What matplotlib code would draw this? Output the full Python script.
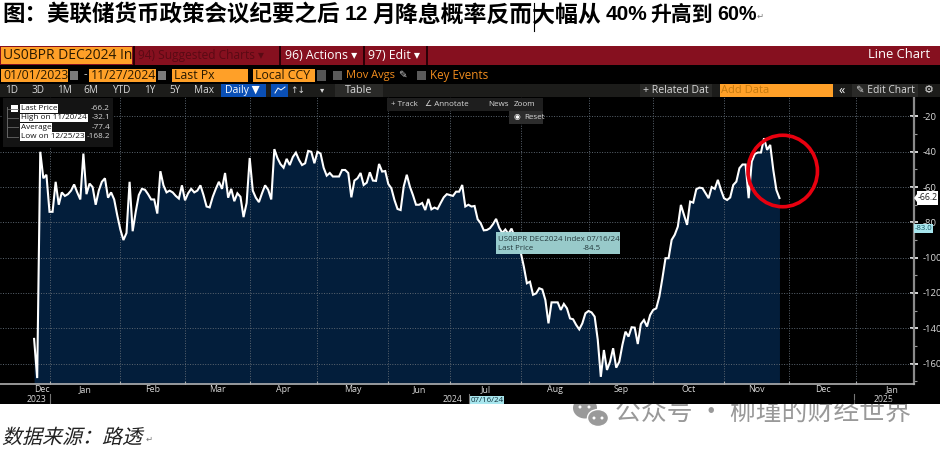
import numpy as np
import pandas as pd
import matplotlib
matplotlib.use("Agg")
import matplotlib.pyplot as plt
from matplotlib.patches import Rectangle, Ellipse
from matplotlib.patheffects import AbstractPathEffect
from matplotlib.transforms import Affine2D

# one value per business day, from 12/25/23 to 11/27/24
dec_2023 = [-146, -168.2, -40, -55, -53]
jan = [-74, -74, -57, -70, -63, -65, -64, -62, -58.5, -63, -67, -41, -64, -58, -60, -70, -62, -57, -55, -66, -63, -67, -76]
feb = [-84, -90, -86, -57, -85, -74, -64.5, -61, -61.5, -64, -67, -67, -75, -51, -59, -63, -62, -63, -65, -66.5, -59]
mar = [-67.5, -63.5, -61, -63, -62, -59, -64.5, -71, -71.5, -65.5, -61, -57, -61, -52, -66, -61, -68, -63.5, -65.5, -77, -69]
apr = [-43.5, -62, -66, -68.5, -63.5, -59, -61.5, -67, -38.5, -43.5, -47, -49, -44, -47.5, -43, -40.5, -44.5, -47.5, -46.5, -39.5, -40, -46.5]
may = [-40, -41, -49, -53.5, -52, -54, -54, -54, -50.3, -50.3, -52, -65.8, -56.3, -55, -52, -58.8, -57.5, -51.6, -56.3, -56.5, -46.9, -51.2, -50.9]
jun = [-58.2, -60.7, -67.3, -72.4, -73, -59.7, -53, -59.7, -64.5, -70, -70, -69, -73, -66.7, -72.6, -71.6, -72.4, -69, -65.8, -64]
jul = [-64.5, -65, -62.6, -62.6, -58.8, -71, -70, -71, -70.7, -78.2, -80.5, -84.5, -84.3, -83.3, -81, -78, -83, -86, -84, -86.5, -83.5, -88, -91]
aug = [-97, -105, -114.5, -113.6, -121, -120.2, -117.3, -118, -124, -137.2, -125.3, -125.3, -125.3, -129.6, -126.2, -128.7, -134.4, -134.9, -138.1, -140.6, -137.2, -131.5]
sep = [-130.2, -131, -133.4, -146.4, -167.5, -152.3, -163.6, -158.9, -151.3, -162.3, -158.9, -149.5, -141.9, -144.7, -139.4, -139.6, -148.9, -137.6, -135.3, -139, -132.5]
oct_ = [-129.6, -128.7, -122, -111.6, -100.3, -100.3, -89.9, -87, -82.4, -70.1, -75.8, -81.4, -68.2, -68.8, -61.2, -60.3, -60.6, -63.5, -66.3, -60, -61, -55.9, -61.6]
nov = [-66.3, -67.3, -65.9, -58.8, -56.9, -49.3, -47.2, -47.2, -66.3, -45.5, -41.2, -40.4, -40.4, -32.3, -38.9, -36.1, -50.3, -61.6, -66.2]

prices = dec_2023 + jan + feb + mar + apr + may + jun + jul + aug + sep + oct_ + nov

month_labels = ["Jan", "Feb", "Mar", "Apr", "May", "Jun", "Jul", "Aug", "Sep", "Oct", "Nov", "Dec", "Jan"]
month_starts = ["2024-01-01", "2024-02-01", "2024-03-01", "2024-04-01", "2024-05-01", "2024-06-03",
                "2024-07-01", "2024-08-01", "2024-09-02", "2024-10-01", "2024-11-01", "2024-12-02", "2025-01-01"]
y_ticks = [-20, -40, -60, -80, -100, -120, -140, -160]
y_minor = [-30, -50, -70, -90, -110, -130, -150, -170]
legend_rows = [("Last Price", "-66.2"), ("High on 11/20/24", "-32.1"), ("Average", "-77.4"), ("Low on 12/25/23", "-168.2")]

ORANGE = "#ffa028"
RED = "#86101f"
UI_FONT = ["Open Sans", "DejaVu Sans"]
TITLE_FONT = ["Liberation Sans", "Noto Sans CJK SC", "DejaVu Sans"]
CJK_FONT = ["Noto Sans CJK SC", "DejaVu Sans"]


class Slant(AbstractPathEffect):
    # CJK fonts have no italic, so shear the glyph outlines
    def draw_path(self, renderer, gc, tpath, affine, rgbFace=None):
        renderer.draw_path(gc, tpath, Affine2D().skew_deg(14, 0) + affine, rgbFace)


# the terminal's x axis has one equal step per business day
days = pd.bdate_range("2023-12-25", "2025-03-31")
tick_pos = days.searchsorted(pd.to_datetime(month_starts))
positions = np.arange(len(prices))

fig = plt.figure(figsize=(9.4, 4.51), dpi=100, facecolor="white")


def px_axes(zorder):
    a = fig.add_axes([0, 0, 1, 1], zorder=zorder)
    a.set_xlim(0, 940)
    a.set_ylim(451, 0)
    a.axis("off")
    a.patch.set_alpha(0)
    return a


back = px_axes(0)
front = px_axes(2)
back.add_patch(Rectangle((0, 46), 940, 358, color="black", lw=0))


def box(x0, y0, x1, y1, color, target=front, **kw):
    target.add_patch(Rectangle((x0, y0), x1 - x0, y1 - y0, facecolor=color, lw=0, **kw))


def label(x, y, s, color="#d8d8d8", size=6.6, ha="left", family=UI_FONT, **kw):
    return front.text(x, y, s, color=color, fontsize=size, ha=ha, va="center", family=family, **kw)


# main chart
ax = fig.add_axes([0, (451 - 384) / 451, 914 / 940, (384 - 97) / 451], zorder=1)
ax.set_facecolor("black")
x_left = 5 - 49.5 / 3.08
x_right = x_left + 914 / 3.08
y_bottom = -20 - (384 - 116.5) / 1.765
y_top = -20 + (116.5 - 97) / 1.765
ax.set_xlim(x_left, x_right)
ax.set_ylim(y_bottom, y_top)
ax.fill_between(positions, prices, y_bottom, color="#031e3b", lw=0, zorder=1)
ax.vlines(tick_pos, y_bottom, y_top, color="#5c6670", lw=0.7, linestyles=(0, (1, 1.6)), zorder=2)
ax.hlines(y_ticks, x_left, x_right, color="#5c6670", lw=0.7, linestyles=(0, (1, 1.6)), zorder=2)
ax.plot(positions, prices, color="white", lw=1.5, zorder=3, solid_joinstyle="miter")

for side in ["top", "left"]:
    ax.spines[side].set_visible(False)
ax.spines["right"].set_color("#8a8a8a")
ax.spines["right"].set_linewidth(1.6)
ax.spines["bottom"].set_color("#b0b0b0")
ax.spines["bottom"].set_linewidth(1.2)
ax.yaxis.tick_right()
ax.set_yticks(y_ticks)
ax.set_yticks(y_minor, minor=True)
ax.set_yticklabels([str(t) for t in y_ticks], fontsize=6.8, color="#d8d8d8", family=UI_FONT)
ax.tick_params(axis="y", which="major", direction="inout", length=6, width=1.2, color="white", pad=3)
ax.tick_params(axis="y", which="minor", direction="out", length=2, width=0.8, color="#999999")
ax.set_xticks(tick_pos)
ax.set_xticklabels([])
ax.tick_params(axis="x", direction="in", length=2, width=0.8, color="#b0b0b0")

# month names sit in the middle of each month
edges = np.r_[0, tick_pos, days.searchsorted(pd.Timestamp("2025-02-03"))]
to_px = lambda p: (p - x_left) * 914 / (x_right - x_left)
for name, a, b in zip(["Dec"] + month_labels, edges[:-1], edges[1:]):
    label(to_px((a + b) / 2), 390, name, ha="center", size=6.4)
label(36, 399, "2023", ha="center", size=6.2)
label(452, 399, "2024", ha="center", size=6.2)
label(883, 399, "2025", ha="center", size=6.2)
for xp in [49.5, 469, 854]:
    front.plot([xp, xp], [394, 403], color="#777777", lw=0.8)
box(470, 396, 504, 404, "#a8e6ee")
label(487, 400, "07/16/24", color="#10303a", ha="center", size=5.8)

# toolbar rows
box(0, 46, 940, 65, RED)
box(1, 47, 132, 64, ORANGE)
label(3, 55.5, "US0BPR DEC2024 In", color="#2a1a00", size=10)
box(133, 46, 134.5, 65, "#2a0006")
label(138, 55.5, "94) Suggested Charts ▾", color="#5a0a14", size=8.6)
label(285, 55.5, "96) Actions ▾", color="white", size=8.8)
label(368, 55.5, "97) Edit ▾", color="white", size=8.8)
for xp in [279, 363, 426]:
    box(xp, 46, xp + 1.5, 65, "#2a0006")
label(930, 55, "Line Chart", color="white", size=9.4, ha="right")

for x0, x1, s in [(1, 68, "01/01/2023"), (89, 156, "11/27/2024"), (172, 248, "Last Px"), (253, 315, "Local CCY")]:
    box(x0, 69, x1, 82, ORANGE)
    label(x0 + 2, 75.5, s, color="#2a1a00", size=8.8)
for xp in [70, 158]:
    box(xp, 71, xp + 8, 80, "#7a7a7a")
label(84, 75, "-", color="#d8d8d8", size=8)
box(317, 70, 326, 81, "#555555")
box(333, 71, 342, 80, "#5a5a5a")
label(346, 75.5, "Mov Avgs", color="#f08c1e", size=8)
label(398, 75.5, "✎", color="#cccccc", size=7.5)
box(417, 71, 426, 80, "#5a5a5a")
label(430, 75.5, "Key Events", color="#f08c1e", size=8.4)

box(0, 84, 940, 97, "#1c1c1a")
for xp, s in [(12, "1D"), (38, "3D"), (65, "1M"), (91, "6M"), (121, "YTD"), (150, "1Y"), (175, "5Y"), (204, "Max")]:
    label(xp, 90.5, s, ha="center", size=7.2)
box(221, 84, 266, 97, "#0a4fb5")
label(225, 90.5, "Daily ▼", color="white", size=7.6)
box(271, 84, 288, 97, "#0a4fb5")
front.plot([275, 278, 281, 285], [93, 88, 90, 87], color="white", lw=0.7)
label(298, 90.5, "↑↓", ha="center", size=6.5)
label(322, 90.5, "▾", ha="center", size=6)
box(335, 84, 383, 97, "#2a2a28")
label(359, 90.5, "Table", ha="center", size=7.8)
box(640, 84, 712, 97, "#2a2a28")
label(643, 90.5, "+ Related Dat", size=7.6)
box(720, 84, 833, 97, ORANGE)
label(721, 90.5, "Add Data", color="#c47a10", size=8)
label(842, 90, "«", ha="center", size=9, color="white")
box(852, 84, 918, 97, "#2a2a28")
label(856, 90.5, "✎ Edit Chart", size=7.4)
label(929, 90.5, "⚙", ha="center", size=8, color="#dddddd")

# price legend
box(3, 98, 113, 147, "#141414")
box(11, 105, 18, 112, "white")
front.plot([7, 7], [107, 137], color="#666666", lw=0.7)
for row, (name, val) in enumerate(legend_rows):
    yp = 108.5 + row * 9.4
    front.plot([7, 18], [yp, yp], color="#666666", lw=0.6, zorder=1)
    label(21, yp, name, color="#111111", size=5.9, bbox=dict(facecolor="white", edgecolor="none", pad=0.6))
    label(110, yp, val, size=5.9, ha="right")

# chart tools
box(387, 98, 543, 111, "#1e1e1e")
label(391, 104.5, "+ Track", size=5.8)
label(425, 104.5, "∠ Annotate", size=5.8)
label(488, 104.5, "News", size=5.8)
label(514, 104.5, "Zoom", size=5.8, ha="left")
box(509, 111, 543, 124, "#2c2c2c")
label(514, 117.5, "◉", color="white", size=5.6)
label(524, 117.5, "Reset", size=5.8)

# crosshair tooltip and last value flags
box(495.5, 232, 620, 254, "#9fd4d4", alpha=0.96)
label(498, 239.5, "US0BPR DEC2024 Index 07/16/24", color="#23393c", size=5.7)
label(498, 248, "Last Price", color="#23393c", size=5.7)
label(583, 248, "-84.5", color="#23393c", size=5.7)
box(917, 191, 938, 205, "white")
front.fill([914, 917, 917], [198, 194, 202], color="white", lw=0)
label(927.5, 198, "-66.2", color="#222222", size=6.3, ha="center")
box(914, 224, 933, 233, "#a8e6ee")
label(923.5, 228.5, "-83.0", color="#1a5560", size=5.6, ha="center")

front.add_patch(Ellipse((782.7, 171), 69.5, 71.5, fill=False, edgecolor="#e8000f", lw=2.6))

# page text around the screenshot, the title is set in runs because its digits are narrower
for xp, s, sz in [(2, "图：美联储货币政策会议纪要之后", 16.2), (345, "12", 15), (373, "月降息概率反而大幅从", 16.5),
                  (606, "40%", 15), (650, "升高到", 15), (717, "60%", 14.2)]:
    label(xp, 15, s, color="black", size=sz, family=TITLE_FONT, weight="bold")
front.plot([534, 534], [3, 31], color="black", lw=0.8)
label(757, 16, "↵", color="#777777", size=6, family=["DejaVu Sans"])
source = label(2, 438, "数据来源：路透", color="#222222", size=14.4, family=CJK_FONT)
source.set_path_effects([Slant()])
label(146, 439, "↵", color="#777777", size=6, family=["DejaVu Sans"])

# watermark
label(615, 412, "公众号 · 柳瑾的财经世界", color="black", alpha=0.4, size=18.6, family=CJK_FONT)
front.add_patch(Ellipse((585, 408), 24, 21, facecolor="#9a9a9a", lw=0, zorder=1))
box(570, 396, 610, 404, "black", zorder=1.5)
front.add_patch(Ellipse((598, 418), 21, 17, facecolor="#9a9a9a", edgecolor="white", lw=1, zorder=2))
for xp, yp in [(580, 407), (589, 407), (594, 418), (602, 418)]:
    front.add_patch(Ellipse((xp, yp), 3, 3, facecolor="white", lw=0, zorder=3))

plt.savefig("out.png", dpi=100, facecolor="white")
